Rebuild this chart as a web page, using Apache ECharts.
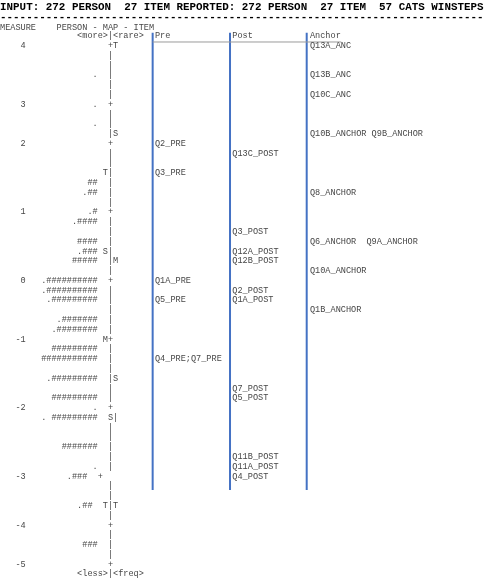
<!DOCTYPE html>
<html>
<head>
<meta charset="utf-8">
<script src="https://cdn.jsdelivr.net/npm/echarts@6.0.0/dist/echarts.min.js"></script>
<style>
html, body { margin: 0; padding: 0; background: #fff; }
#personItemMap { width: 484px; height: 578px; }
</style>
</head>
<body>
<div id="personItemMap"></div>
<script>
// printed map rows: 0 = <more>|<rare>, 55 = <less>|<freq>
const rowCount = 56
const measureRows = [1, 7, 11, 18, 25, 31, 38, 45, 50, 54]
const measureLabels = ['4', '3', '2', '1', '0', '-1', '-2', '-3', '-4', '-5']

// persons (each # = 2 persons, . = 1)
const personRows = [4, 7, 9, 15, 16, 18, 19, 21, 22, 23, 25, 26, 27, 29, 30, 32, 33, 35, 37, 38, 39, 42, 44, 45, 48, 52]
const personMarks = ['.', '.', '.', '##', '.##', '.#', '.####', '####', '.###', '#####',
    '.##########', '.##########', '.#########', '.#######', '.########', '#########', '###########',
    '.#########', '#########', '.', '. #########', '#######', '.', '.###  ', '.## ', '###']

// the |-spine with M/S/T markers, rows 1..54
const spine = ['  +T', '  |', '  |', '  |', '  |', '  |', '  +', '  |', '  |', '  |S',
    '  +', '  |', '  |', ' T|', '  |', '  |', '  |', '  +', '  |', '  |',
    '  |', ' S|', '  |M', '  |', '  +', '  |', '  |', '  |', '  |', '  |',
    ' M+', '  |', '  |', '  |', '  |S', '  |', '  |', '  +', '  S|', '  |',
    '  |', '  |', '  |', '  |', '+', '  |', '  |', ' T|T', '  |', '  +',
    '  |', '  |', '  |', '  +']
const scaleEnds = ['<more>|<rare>', '<less>|<freq>']

const columnHeads = ['Pre', 'Post', 'Anchor']
const preRows = [11, 14, 25, 27, 33]
const preItems = ['Q2_PRE', 'Q3_PRE', 'Q1A_PRE', 'Q5_PRE', 'Q4_PRE;Q7_PRE']
const postRows = [12, 20, 22, 23, 26, 27, 36, 37, 43, 44, 45]
const postItems = ['Q13C_POST', 'Q3_POST', 'Q12A_POST', 'Q12B_POST', 'Q2_POST', 'Q1A_POST',
    'Q7_POST', 'Q5_POST', 'Q11B_POST', 'Q11A_POST', 'Q4_POST']
const anchorRows = [1, 4, 6, 10, 16, 21, 24, 28]
const anchorItems = ['Q13A_ANC', 'Q13B_ANC', 'Q10C_ANC', 'Q10B_ANCHOR Q9B_ANCHOR', 'Q8_ANCHOR',
    'Q6_ANCHOR  Q9A_ANCHOR', 'Q10A_ANCHOR', 'Q1B_ANCHOR']

const CH = 5.14              // px per character cell
const FONT = '8.57px "Liberation Mono", "Courier New", monospace'
const INK = '#474747'
const RULE = '#4472C4'

const rowNames = []
for (let i = 0; i < rowCount; i++) rowNames.push(String(i))
const measureByRow = {}
measureRows.forEach((r, i) => { measureByRow[r] = measureLabels[i] })

function textSeries(rows, texts, col, align) {
    return {
        type: 'custom',
        silent: true,
        data: rows.map(r => [col, r]),
        encode: { x: 0, y: 1 },
        renderItem: function (params, api) {
            const p = api.coord([api.value(0), api.value(1)])
            return {
                type: 'text',
                x: p[0],
                y: p[1],
                style: {
                    text: texts[params.dataIndex],
                    font: FONT,
                    fill: INK,
                    align: align,
                    verticalAlign: 'middle'
                }
            }
        }
    }
}

const spineRows = spine.map((s, i) => i + 1)

const chart = echarts.init(document.getElementById('personItemMap'), null, { renderer: 'canvas' })
chart.setOption({
    animation: false,
    grid: {
        top: 31.1,
        height: rowCount * 9.786,
        left: 5 * CH,
        right: 484 - 94 * CH,
        containLabel: false,
        outerBoundsMode: 'none'
    },
    xAxis: {
        type: 'value',
        min: 5,
        max: 94,
        show: false
    },
    yAxis: {
        type: 'category',
        data: rowNames,
        inverse: true,
        axisLine: { show: false },
        axisTick: { show: false },
        splitLine: { show: false },
        axisLabel: {
            interval: 0,
            margin: 0,
            fontFamily: '"Liberation Mono", monospace',
            fontSize: 8.57,
            color: INK,
            formatter: function (value) {
                return measureByRow[value] || ''
            }
        }
    },
    graphic: [
        {
            type: 'text', left: 0, top: 2,
            style: {
                text: 'INPUT: 272 PERSON  27 ITEM REPORTED: 272 PERSON  27 ITEM  57 CATS WINSTEPS',
                font: 'bold 10.9px "Liberation Mono", monospace',
                fill: '#000'
            }
        },
        {
            type: 'text', left: 0, top: 12,
            style: {
                text: '-'.repeat(75),
                font: 'bold 10.9px "Liberation Mono", monospace',
                fill: '#000'
            }
        },
        {
            type: 'text', left: 0, top: 23,
            style: {
                text: 'MEASURE    PERSON - MAP - ITEM',
                font: FONT,
                fill: INK
            }
        }
    ],
    series: [
        // table rules between the item groups
        {
            type: 'custom',
            silent: true,
            data: [[29.7, 0], [44.75, 0], [59.67, 0]],
            encode: { x: 0, y: 1 },
            renderItem: function (params, api) {
                const band = api.size([0, 1])[1]
                const top = api.coord([api.value(0), 0])
                const bottom = api.coord([api.value(0), 46])
                return {
                    type: 'line',
                    shape: { x1: top[0], y1: top[1] - band * 0.5 + 1.6, x2: bottom[0], y2: bottom[1] + band * 0.4 },
                    style: { stroke: RULE, lineWidth: 2 }
                }
            }
        },
        {
            type: 'custom',
            silent: true,
            data: [[29.7, 0]],
            encode: { x: 0, y: 1 },
            renderItem: function (params, api) {
                const a = api.coord([29.7, 0])
                const b = api.coord([66.4, 0])
                return {
                    type: 'line',
                    shape: { x1: a[0], y1: a[1] + 6, x2: b[0], y2: b[1] + 6 },
                    style: { stroke: '#9a9a9a', lineWidth: 1 }
                }
            }
        },
        textSeries(personRows, personMarks, 19, 'right'),
        textSeries(spineRows, spine, 19, 'left'),
        textSeries([0, 55], scaleEnds, 15, 'left'),
        textSeries([0, 0, 0], columnHeads, 0, 'left'),
        textSeries(preRows, preItems, 30.15, 'left'),
        textSeries(postRows, postItems, 45.2, 'left'),
        textSeries(anchorRows, anchorItems, 60.3, 'left')
    ]
})
// column heads sit at the same x as their items
chart.setOption({
    series: [{}, {}, {}, {}, {}, {
        data: [[30.15, 0], [45.2, 0], [60.3, 0]]
    }]
})
</script>
</body>
</html>
